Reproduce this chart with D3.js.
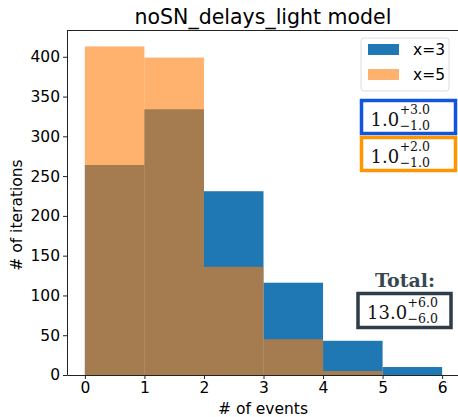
<!DOCTYPE html>
<html>
<head>
<meta charset="utf-8">
<script src="https://cdn.jsdelivr.net/npm/d3@7"></script>
<style>
  body { margin: 0; background: #fff; }
  svg { display: block; }
  text { font-family: "DejaVu Sans", sans-serif; }
  .serif { font-family: "DejaVu Serif", serif; }
</style>
</head>
<body>
<svg id="chart"></svg>
<script>
const width = 458;
const height = 417;

// histogram bin edges and counts
const binEdges = [0, 1, 2, 3, 4, 5, 6];
const countsX3 = [264, 334, 231, 116, 43, 10];
const countsX5 = [413, 399, 136, 45, 5, 0];
const seriesNames = ["x=3", "x=5"];
const yTicks = [0, 50, 100, 150, 200, 250, 300, 350, 400];
const xTicks = [0, 1, 2, 3, 4, 5, 6];

// uncertainty labels: [value, plus, minus]
const estX3 = ["1.0", "+3.0", "\u22121.0"];
const estX5 = ["1.0", "+2.0", "\u22121.0"];
const estTotal = ["13.0", "+6.0", "\u22126.0"];

const blue = "#1f77b4";
const orange = "#ff7f0e";

const margin = {top: 30, right: -2, bottom: 42, left: 67};

const svg = d3.select("#chart")
  .attr("width", width)
  .attr("height", height);

const x = d3.scaleLinear()
  .domain([-0.3, 6.3])
  .range([margin.left, width - margin.right]);

const y = d3.scaleLinear()
  .domain([0, 413 * 1.05])
  .range([height - margin.bottom, margin.top]);

const bins = binEdges.slice(0, -1).map((b, i) => ({x0: b, x1: binEdges[i + 1], a: countsX3[i], b: countsX5[i]}));

// x=3 bars (solid)
svg.append("g")
  .selectAll("rect")
  .data(bins)
  .join("rect")
    .attr("x", d => x(d.x0))
    .attr("width", d => x(d.x1) - x(d.x0))
    .attr("y", d => y(d.a))
    .attr("height", d => y(0) - y(d.a))
    .attr("fill", blue);

// x=5 bars (translucent)
svg.append("g")
  .selectAll("rect")
  .data(bins.filter(d => d.b > 0))
  .join("rect")
    .attr("x", d => x(d.x0))
    .attr("width", d => x(d.x1) - x(d.x0))
    .attr("y", d => y(d.b))
    .attr("height", d => y(0) - y(d.b))
    .attr("fill", orange)
    .attr("fill-opacity", 0.6);

// axes
const yAxis = svg.append("g")
  .attr("transform", `translate(${margin.left},0)`)
  .call(d3.axisLeft(y).tickValues(yTicks).tickSize(4).tickPadding(3).tickSizeOuter(0));

const xAxis = svg.append("g")
  .attr("transform", `translate(0,${height - margin.bottom})`)
  .call(d3.axisBottom(x).tickValues(xTicks).tickFormat(d3.format("d")).tickSize(4).tickPadding(3).tickSizeOuter(0));

[yAxis, xAxis].forEach(g => {
  g.selectAll("text").attr("font-size", 15.5).attr("fill", "#000").attr("font-family", "DejaVu Sans");
  g.selectAll("line").attr("stroke", "#222");
  g.select(".domain").attr("stroke", "#222");
});

// top spine
svg.append("line")
  .attr("x1", margin.left).attr("x2", width)
  .attr("y1", margin.top + 0.5).attr("y2", margin.top + 0.5)
  .attr("stroke", "#222");

// labels
svg.append("text")
  .attr("x", 263).attr("y", 24)
  .attr("text-anchor", "middle")
  .attr("font-size", 20.5)
  .text("noSN_delays_light model");

svg.append("text")
  .attr("transform", "translate(22,215) rotate(-90)")
  .attr("text-anchor", "middle")
  .attr("font-size", 15.5)
  .text("# of iterations");

svg.append("text")
  .attr("x", 263).attr("y", 414)
  .attr("text-anchor", "middle")
  .attr("font-size", 15.5)
  .text("# of events");

// legend
const legend = svg.append("g").attr("transform", "translate(361,38)");
legend.append("rect")
  .attr("width", 88).attr("height", 53)
  .attr("rx", 3)
  .attr("fill", "#fff").attr("fill-opacity", 0.8)
  .attr("stroke", "#ddd");
seriesNames.forEach((name, i) => {
  legend.append("rect")
    .attr("x", 7).attr("y", 6 + i * 25)
    .attr("width", 31).attr("height", 11)
    .attr("fill", i === 0 ? blue : orange)
    .attr("fill-opacity", i === 0 ? 1 : 0.6);
  legend.append("text")
    .attr("x", 52).attr("y", 17 + i * 25)
    .attr("font-size", 15.5)
    .text(name);
});

// estimate boxes
function estBox(bx, by, bw, bh, stroke, est) {
  const g = svg.append("g");
  g.append("rect")
    .attr("x", bx).attr("y", by)
    .attr("width", bw).attr("height", bh)
    .attr("fill", "#fff")
    .attr("stroke", stroke)
    .attr("stroke-width", 3.5);
  const main = g.append("text")
    .attr("class", "serif")
    .attr("x", bx + 9).attr("y", by + 25)
    .attr("font-size", 18)
    .attr("fill", "#111")
    .text(est[0]);
  const w = main.node().getComputedTextLength();
  g.append("text")
    .attr("class", "serif")
    .attr("x", bx + 9.5 + w).attr("y", by + 13)
    .attr("font-size", 12.5)
    .attr("fill", "#111")
    .text(est[1]);
  g.append("text")
    .attr("class", "serif")
    .attr("x", bx + 9.5 + w).attr("y", by + 29.5)
    .attr("font-size", 12.5)
    .attr("fill", "#111")
    .text(est[2]);
}

estBox(361.5, 100.5, 94, 33, "#1155dd", estX3);
estBox(361.5, 137.5, 94, 33, "#ff9500", estX5);

svg.append("text")
  .attr("class", "serif")
  .attr("x", 405).attr("y", 287)
  .attr("text-anchor", "middle")
  .attr("font-size", 19)
  .attr("font-weight", "bold")
  .attr("fill", "#37474f")
  .text("Total:");

estBox(358, 293.5, 93, 34, "#2e3d47", estTotal);
</script>
</body>
</html>
